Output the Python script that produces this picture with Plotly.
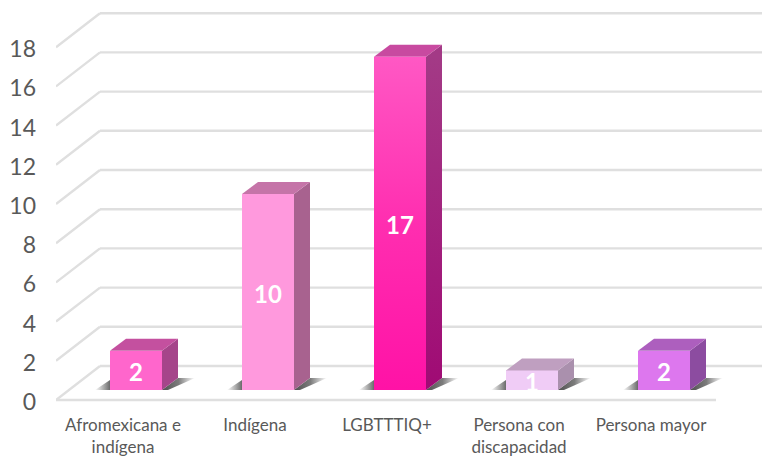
import plotly.graph_objects as go

# ---- data ----
categories = ["Afromexicana e<br>indígena", "Indígena", "LGBTTTIQ+", "Persona con<br>discapacidad", "Persona mayor"]
values = [2, 10, 17, 1, 2]
y_ticks = list(range(0, 20, 2))

# ---- styles ----
front_colors = ["#ff66cc", "#ff99dd", "#ff30b0", "#f0ccf6", "#dd77ee"]
side_colors = ["#a5458a", "#a8628f", "#a01f7c", "#aa90ad", "#8c4ca0"]
top_colors = ["#c4509f", "#c574a8", "#c84aa0", "#bf9fc0", "#ad5fbe"]
GRID = "#dfdfdf"
TEXT = "#595959"
W, H = 762, 457
L, B = 56, 54
PXX, PXY = 132.0, 19.6       # pixels per category / per unit
X0PX = 123                   # pixel position of the first category on the front plane


def dx(px):
    return px / PXX


def dy(px):
    return px / PXY


BAR_W = dx(52)
FLOOR_DX, FLOOR_DY = dx(44), dy(34)     # depth of the floor
OFF_X, OFF_Y = dx(13), dy(10)           # bar front plane inside the floor
D_X, D_Y = dx(16), dy(12)               # bar depth

x_rng = [(L - X0PX) / PXX, (W - X0PX) / PXX]
y_rng = [-dy(3), dy(400)]
front_end = (716 - X0PX) / PXX

fig = go.Figure()
positions = list(range(len(values)))

# grid drawn on the back wall, the left wall and the floor front edge
shapes = []
line = dict(color=GRID, width=2.4)
for t in y_ticks:
    shapes.append(dict(type="line", layer="below", xref="x", yref="y",
                       x0=x_rng[0], y0=t, x1=x_rng[0] + FLOOR_DX, y1=t + FLOOR_DY, line=line))
    shapes.append(dict(type="line", layer="below", xref="x", yref="y",
                       x0=x_rng[0] + FLOOR_DX, y0=t + FLOOR_DY, x1=x_rng[1], y1=t + FLOOR_DY, line=line))
shapes.append(dict(type="line", layer="below", xref="x", yref="y",
                   x0=x_rng[0], y0=0, x1=front_end, y1=0, line=line))

# front faces
fig.add_trace(go.Bar(
    x=[p + OFF_X for p in positions], y=values, base=[OFF_Y] * len(values),
    width=BAR_W, marker=dict(color=front_colors, line=dict(width=0)),
    showlegend=False, hoverinfo="skip",
))

for p, v, fc, sc, tc in zip(positions, values, front_colors, side_colors, top_colors):
    xl = p + OFF_X - BAR_W / 2
    xr = p + OFF_X + BAR_W / 2
    yb = OFF_Y
    yt = OFF_Y + v

    # floor shadows
    fig.add_trace(go.Scatter(
        x=[xl - dx(15), xl, xl], y=[yb, yb + dy(10), yb], mode="lines", line=dict(width=0),
        fill="toself", showlegend=False, hoverinfo="skip",
        fillgradient=dict(type="horizontal", start=xl - dx(15), stop=xl,
                          colorscale=[[0, "rgba(90,90,90,0)"], [1, "rgba(80,80,80,0.85)"]]),
    ))
    fig.add_trace(go.Scatter(
        x=[xr, xr + D_X, xr + D_X + dx(17), xr + dx(6)],
        y=[yb, yb + D_Y, yb + D_Y, yb], mode="lines", line=dict(width=0),
        fill="toself", showlegend=False, hoverinfo="skip",
        fillgradient=dict(type="horizontal", start=xr, stop=xr + D_X + dx(17),
                          colorscale=[[0, "rgba(60,60,60,0.9)"], [0.5, "rgba(80,80,80,0.75)"],
                                      [1, "rgba(90,90,90,0)"]]),
    ))
    # right side
    fig.add_trace(go.Scatter(
        x=[xr, xr + D_X, xr + D_X, xr, xr], y=[yb, yb + D_Y, yt + D_Y, yt, yb],
        mode="lines", line=dict(width=0), fill="toself", showlegend=False, hoverinfo="skip",
        fillcolor=sc,
        **({"fillgradient": dict(type="vertical", start=yb, stop=yt,
                                 colorscale=[[0, "#a00a74"], [1, "#a33a86"]])} if v == max(values) else {}),
    ))
    # top
    fig.add_trace(go.Scatter(
        x=[xl, xr, xr + D_X, xl + D_X, xl], y=[yt, yt, yt + D_Y, yt + D_Y, yt],
        mode="lines", line=dict(width=0), fill="toself", showlegend=False, hoverinfo="skip",
        fillcolor=tc,
    ))
    # gradient on the tallest front face
    if v == max(values):
        fig.add_trace(go.Scatter(
            x=[xl, xr, xr, xl, xl], y=[yb, yb, yt, yt, yb],
            mode="lines", line=dict(width=0), fill="toself", showlegend=False, hoverinfo="skip",
            fillgradient=dict(type="vertical", start=yb, stop=yt,
                              colorscale=[[0, "#ff12a6"], [0.5, "#ff2eb0"], [1, "#ff58c4"]]),
        ))

# data labels
fig.add_trace(go.Scatter(
    x=[p + OFF_X for p in positions], y=[OFF_Y + v / 2 - dy(5) for v in values],
    mode="text", text=[str(v) for v in values],
    textfont=dict(family="Lato", size=24, color="white", weight="bold"),
    showlegend=False, hoverinfo="skip",
))

fig.update_layout(
    width=W, height=H, margin=dict(l=L, r=0, t=0, b=B, pad=0),
    paper_bgcolor="white", plot_bgcolor="white", shapes=shapes, bargap=0, showlegend=False,
    xaxis=dict(range=x_rng, tickmode="array", tickvals=positions, ticktext=categories,
               showgrid=False, zeroline=False, showline=False, ticks="", tickangle=0,
               ticklabelstandoff=10, automargin=False,
               tickfont=dict(family="Lato", size=17, color=TEXT)),
    yaxis=dict(range=y_rng, tickmode="array", tickvals=[t - dy(2) for t in y_ticks],
               ticktext=[str(t) for t in y_ticks],
               showgrid=False, zeroline=False, showline=False, ticks="",
               ticklabelstandoff=19, automargin=False,
               tickfont=dict(family="Lato", size=23, color=TEXT)),
)

fig.write_html("out.html", post_script="document.body.style.margin='0';",
               config=dict(displayModeBar=False))
